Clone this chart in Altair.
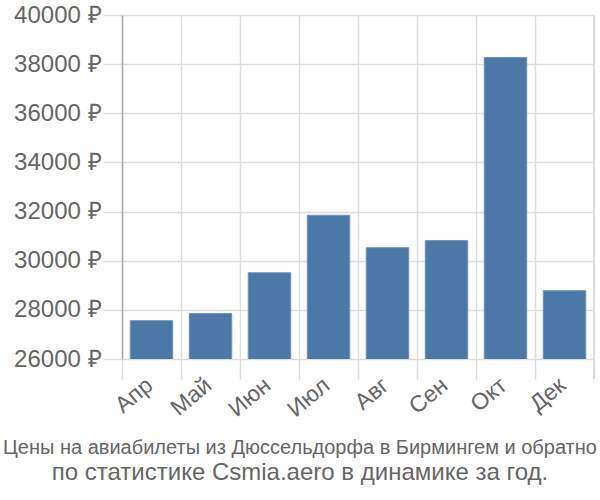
import altair as alt
import pandas as pd

months = ["Апр", "Май", "Июн", "Июл", "Авг", "Сен", "Окт", "Дек"]
prices = [27560, 27850, 29510, 31850, 30530, 30820, 38270, 28780]
y_ticks = [26000, 28000, 30000, 32000, 34000, 36000, 38000, 40000]
title_line1 = "Цены на авиабилеты из Дюссельдорфа в Бирмингем и обратно"
title_line2 = "по статистике Csmia.aero в динамике за год."

df = pd.DataFrame({"month": months, "price": prices})

W, H = 472, 344
FONT = "Liberation Sans"

bars = alt.Chart(df).mark_bar(color="#4c78a8", stroke="#6f93bd", strokeWidth=1, clip=True).encode(
    x=alt.X("month:N", sort=months,
            scale=alt.Scale(paddingInner=0.28, paddingOuter=0.14),
            axis=alt.Axis(title=None, bandPosition=0, tickOffset=-8.3, labelAngle=-40,
                          labelFontSize=23, labelColor="#666666", labelFont=FONT,
                          labelPadding=3, labelOffset=6,
                          grid=True, gridColor="#dddddd", gridWidth=1.5,
                          tickColor="#dddddd", tickSize=20, tickWidth=1.5,
                          domain=False, labelAlign="right", labelBaseline="middle")),
    y=alt.Y("price:Q", scale=alt.Scale(domain=[26000, 40000], nice=False, zero=False),
            axis=alt.Axis(title=None, values=y_ticks, labelExpr="datum.value + ' ₽'",
                          labelFontSize=24, labelColor="#666666", labelFont=FONT,
                          grid=True, gridColor="#dddddd", gridWidth=1.5,
                          tickColor="#dddddd", tickSize=19, tickWidth=1.5,
                          domain=True, domainColor="#aaaaaa", domainWidth=1.5,
                          labelPadding=2)),
)

edge = alt.Chart(df).mark_rule(color="#dddddd", strokeWidth=1.5).encode(
    x=alt.value(W), y=alt.value(0), y2=alt.value(H + 20)
)

chart = alt.layer(edge, bars).properties(
    width=W, height=H,
    padding={"left": 122, "top": 15, "right": 6, "bottom": 141},
    autosize=alt.AutoSizeParams(type="none"),
    title=alt.TitleParams(
        text=title_line1, subtitle=title_line2, orient="bottom", anchor="middle",
        fontSize=20, subtitleFontSize=24, color="#666666", subtitleColor="#666666",
        font=FONT, subtitleFont=FONT, fontWeight="normal", offset=17, subtitlePadding=3,
        dx=-58,
    ),
).configure_view(stroke=None)

chart.save("out.html", embed_options={"renderer": "svg", "actions": False})
